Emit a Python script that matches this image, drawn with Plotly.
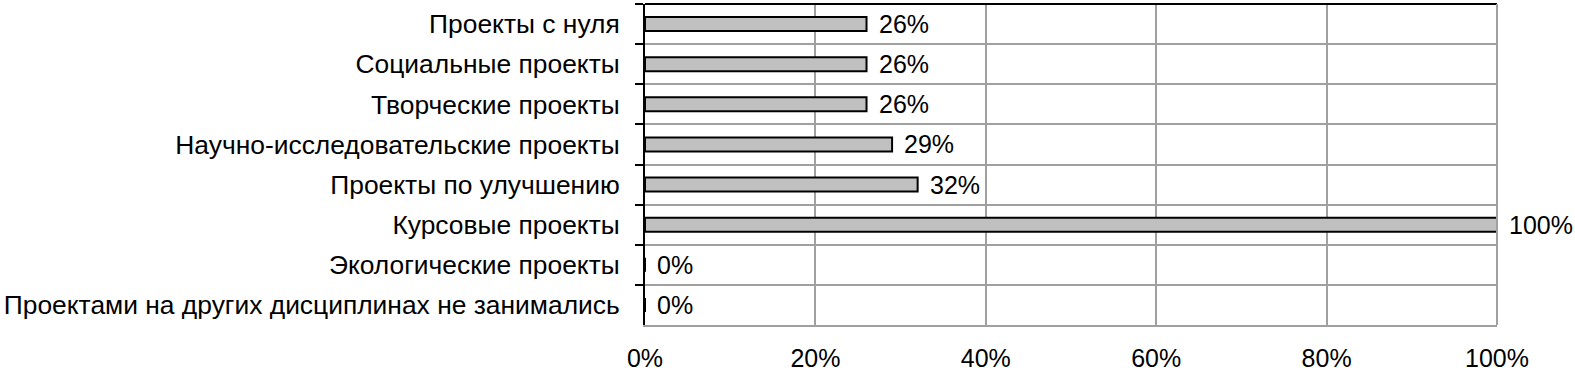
import plotly.graph_objects as go

categories = [
    "Проекты с нуля",
    "Социальные проекты",
    "Творческие проекты",
    "Научно-исследовательские проекты",
    "Проекты по улучшению",
    "Курсовые проекты",
    "Экологические проекты",
    "Проектами на других дисциплинах не занимались",
]
values = [26, 26, 26, 29, 32, 100, 0, 0]
x_ticks = [0, 20, 40, 60, 80, 100]
x_tick_labels = ["0%", "20%", "40%", "60%", "80%", "100%"]

FONT = "Liberation Sans, Arial, sans-serif"

fig = go.Figure(
    go.Bar(
        y=categories,
        x=values,
        orientation="h",
        width=0.35,
        marker=dict(color="#c0c0c0", line=dict(color="#000000", width=2)),
        cliponaxis=False,
    )
)

annotations = [
    dict(x=v, y=c, xref="x", yref="y", text=f"{v}%", showarrow=False,
         xanchor="left", yanchor="middle", xshift=10,
         font=dict(family=FONT, size=25, color="#000000"))
    for c, v in zip(categories, values)
]

fig.update_layout(
    width=1575,
    height=371,
    margin=dict(l=645, r=78, t=4, b=46, autoexpand=False),
    plot_bgcolor="white",
    paper_bgcolor="white",
    showlegend=False,
    font=dict(family=FONT, size=26, color="#000000"),
    annotations=annotations,
    shapes=[
        dict(type="line", xref="paper", yref="paper", x0=0, x1=1, y0=1, y1=1,
             line=dict(color="#000000", width=2)),
        dict(type="line", xref="paper", yref="paper", x0=1, x1=1, y0=0, y1=1,
             line=dict(color="#a0a0a0", width=2)),
    ],
)

fig.update_xaxes(
    range=[0, 100],
    tickvals=x_ticks,
    ticktext=x_tick_labels,
    showgrid=True,
    gridcolor="#a0a0a0",
    gridwidth=2,
    zeroline=False,
    showline=True,
    linecolor="#a0a0a0",
    linewidth=2,
    ticks="",
    automargin=False,
    ticklabelstandoff=10,
    tickfont=dict(family=FONT, size=25, color="#000000"),
)

fig.update_yaxes(
    categoryorder="array",
    categoryarray=categories,
    autorange="reversed",
    tickson="boundaries",
    ticks="outside",
    ticklen=8,
    tickwidth=2,
    tickcolor="#000000",
    showgrid=True,
    gridcolor="#a0a0a0",
    gridwidth=2,
    showline=True,
    linecolor="#000000",
    linewidth=2,
    automargin=False,
    ticklabelstandoff=18,
    tickfont=dict(family=FONT, size=26.4, color="#000000"),
)

fig.write_html("out.html")
